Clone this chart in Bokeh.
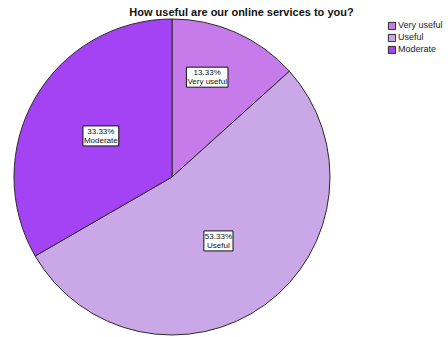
import math
from bokeh.plotting import figure
from bokeh.models import Range1d, ColumnDataSource, Label, Legend, LegendItem
from bokeh.core.properties import value
from bokeh.embed import file_html
from bokeh.resources import INLINE

# data
categories = ["Very useful", "Useful", "Moderate"]
percents = [13.33, 53.33, 33.33]
colors = ["#c77ae9", "#caa7e6", "#a443f4"]
title_text = "How useful are our online services to you?"

W, H = 448, 337
CX, CY, R = 171.5, H - 176.5, 158.0

p = figure(width=W, height=H, output_backend="svg", toolbar_location=None,
           x_range=Range1d(0, W), y_range=Range1d(0, H),
           min_border=0, outline_line_color=None)
p.axis.visible = False
p.grid.visible = False

total = sum(percents)
starts, ends, mids = [], [], []
cum = 0.0
for v in percents:
    a0 = math.pi / 2 - 2 * math.pi * cum / total
    cum += v
    a1 = math.pi / 2 - 2 * math.pi * cum / total
    starts.append(a0)
    ends.append(a1)
    mids.append((a0 + a1) / 2)

renderers = []
for i, c in enumerate(categories):
    src = ColumnDataSource(dict(x=[CX], y=[CY], s=[starts[i]], e=[ends[i]]))
    r = p.wedge(x="x", y="y", radius=R, start_angle="s", end_angle="e",
                direction="clock", fill_color=colors[i], line_color="#2a2a2a",
                line_width=1, source=src)
    renderers.append(r)

# labels
label_rfrac = [0.67, 0.5, 0.52]
label_shift = [0.08, 0.0, 0.0]
lx, ly, lt = [], [], []
for i, c in enumerate(categories):
    a = mids[i] + label_shift[i]
    rr = R * label_rfrac[i]
    lx.append(CX + rr * math.cos(a))
    ly.append(CY + rr * math.sin(a))
    lt.append(f"{percents[i]:.2f}%\n{c}")
lsrc = ColumnDataSource(dict(x=lx, y=ly, t=lt))
p.text(x="x", y="y", text="t", source=lsrc, text_align="center",
       text_baseline="middle", text_font=value("Liberation Sans"),
       text_font_size="8px", text_color="#111111", text_line_height=1.0,
       background_fill_color="white", border_line_color="#111111",
       border_line_width=1, padding=1)

# title
p.add_layout(Label(x=241, y=H - 11, x_units="screen", y_units="screen",
                   text=title_text, text_align="center", text_baseline="middle",
                   text_font="Liberation Sans", text_font_style="bold",
                   text_font_size="11px", text_color="#111111"))

legend = Legend(items=[LegendItem(label=c, renderers=[renderers[i]])
                       for i, c in enumerate(categories)],
                location=(387, H - 55), label_text_font="Liberation Sans",
                label_text_font_size="9px", label_text_color="#222222",
                glyph_width=9, glyph_height=9, label_height=12, spacing=0,
                padding=0, margin=0, label_standoff=2,
                border_line_color=None, background_fill_alpha=0)
p.add_layout(legend, "center")

open("out.html", "w").write(file_html(p, INLINE))
